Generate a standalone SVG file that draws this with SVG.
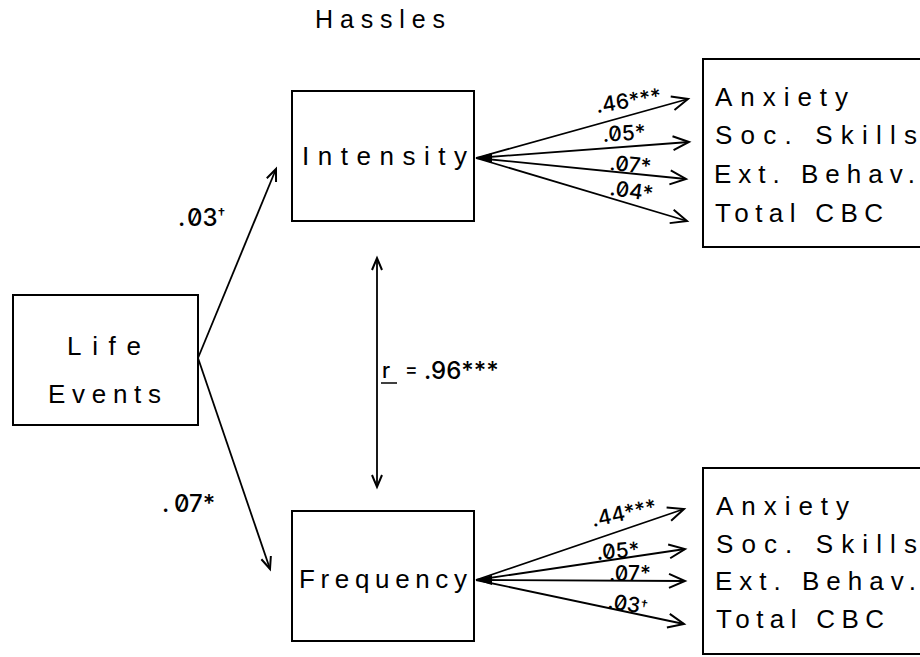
<svg xmlns="http://www.w3.org/2000/svg" width="920" height="657" viewBox="0 0 920 657">
<defs>
<style>
.box{fill:none;stroke:#000;stroke-width:2}
.lbl{font-family:"Liberation Sans",Arial,sans-serif;font-size:26px;fill:#000}
.num{font-family:Inter,"Liberation Sans",sans-serif;font-size:21px;fill:#000;font-weight:500;font-feature-settings:"zero" 1;font-variant-numeric:slashed-zero}
.big{font-size:24px}
.ln{stroke:#000;stroke-width:1.8;fill:none}
</style>
<marker id="ah" markerUnits="userSpaceOnUse" markerWidth="24" markerHeight="24" viewBox="-20 -12 24 24" refX="0" refY="0" orient="auto">
<path d="M-16,-7 L0,0 L-16,7" fill="none" stroke="#000" stroke-width="2"/>
</marker>
<marker id="as" markerUnits="userSpaceOnUse" markerWidth="20" markerHeight="20" viewBox="-16 -10 20 20" refX="0" refY="0" orient="auto-start-reverse">
<path d="M-12,-5 L0,0 L-12,5" fill="none" stroke="#000" stroke-width="2"/>
</marker>
</defs>
<rect x="0" y="0" width="920" height="657" fill="#fff"/>

<text class="lbl" x="315" y="28" style="font-size:25px" textLength="130" lengthAdjust="spacing">Hassles</text>

<g id="life-events">
<rect class="box" x="13" y="295" width="185" height="130"/>
<text class="lbl" x="67" y="355" textLength="74" lengthAdjust="spacing">Life</text>
<text class="lbl" x="48" y="403" textLength="113" lengthAdjust="spacing">Events</text>
</g>

<g id="intensity">
<rect class="box" x="292" y="91" width="182" height="130"/>
<text class="lbl" x="302" y="165" textLength="165" lengthAdjust="spacing">Intensity</text>
</g>

<g id="frequency">
<rect class="box" x="292" y="511" width="182" height="130"/>
<text class="lbl" x="299" y="588" textLength="168" lengthAdjust="spacing">Frequency</text>
</g>

<g id="outcomes-intensity">
<rect class="box" x="703" y="59" width="230" height="188"/>
<text class="lbl" x="715" y="106" textLength="133" lengthAdjust="spacing">Anxiety</text>
<text class="lbl" x="715" y="144" textLength="202" lengthAdjust="spacing">Soc. Skills</text>
<text class="lbl" x="714" y="183" textLength="201" lengthAdjust="spacing">Ext. Behav.</text>
<text class="lbl" x="715" y="222" textLength="168" lengthAdjust="spacing">Total CBC</text>
</g>

<g id="outcomes-frequency">
<rect class="box" x="703" y="468" width="230" height="186"/>
<text class="lbl" x="716" y="515" textLength="133" lengthAdjust="spacing">Anxiety</text>
<text class="lbl" x="716" y="553" textLength="201" lengthAdjust="spacing">Soc. Skills</text>
<text class="lbl" x="715" y="590" textLength="201" lengthAdjust="spacing">Ext. Behav.</text>
<text class="lbl" x="716" y="628" textLength="168" lengthAdjust="spacing">Total CBC</text>
</g>

<g id="connectors">
<line class="ln" x1="198" y1="358" x2="276" y2="169" marker-end="url(#as)"/>
<line class="ln" x1="198" y1="358" x2="270" y2="569" marker-end="url(#as)"/>
<line class="ln" x1="377" y1="258" x2="377" y2="487" marker-start="url(#as)" marker-end="url(#as)"/>
<line class="ln" x1="476" y1="158" x2="688" y2="99" marker-end="url(#ah)"/>
<line class="ln" x1="476" y1="158" x2="689" y2="142" marker-end="url(#ah)"/>
<line class="ln" x1="476" y1="158" x2="686" y2="179" marker-end="url(#ah)"/>
<line class="ln" x1="476" y1="158" x2="687" y2="221" marker-end="url(#ah)"/>
<line class="ln" x1="476" y1="580" x2="684" y2="509" marker-end="url(#ah)"/>
<line class="ln" x1="476" y1="580" x2="685" y2="549" marker-end="url(#ah)"/>
<line class="ln" x1="476" y1="580" x2="685" y2="581" marker-end="url(#ah)"/>
<line class="ln" x1="476" y1="580" x2="684" y2="624" marker-end="url(#ah)"/>
<polygon points="476,158 492,153 492,163" fill="#000"/>
<polygon points="476,580 492,575 492,585" fill="#000"/>

<text class="num big" x="178" y="226">.<tspan x="187">03</tspan><tspan font-size="15" dy="-7">†</tspan></text>
<text class="num big" x="162" y="512">.<tspan x="174">07*</tspan></text>

<text class="num" x="382" y="378">r</text>
<line x1="381" y1="383" x2="397" y2="383" stroke="#000" stroke-width="1.5"/>
<text class="num" x="405" y="376" style="font-size:19px">=</text>
<text class="num big" x="424" y="379">.96***</text>

<text class="num" x="597" y="113" transform="rotate(-9 597 113)">.46***</text>
<text class="num" x="603" y="142" transform="rotate(-4 603 142)">.05*</text>
<text class="num" x="609" y="170" transform="rotate(5 609 170)">.07*</text>
<text class="num" x="609" y="195" transform="rotate(8 609 195)">.04*</text>

<text class="num" x="593" y="527" transform="rotate(-12 593 527)">.44***</text>
<text class="num" x="597" y="560" transform="rotate(-5 597 560)">.05*</text>
<text class="num" x="609" y="581">.07*</text>
<text class="num" x="607" y="608" transform="rotate(9 607 608)">.03<tspan font-size="14" dy="-4">†</tspan></text>
</g>
</svg>
